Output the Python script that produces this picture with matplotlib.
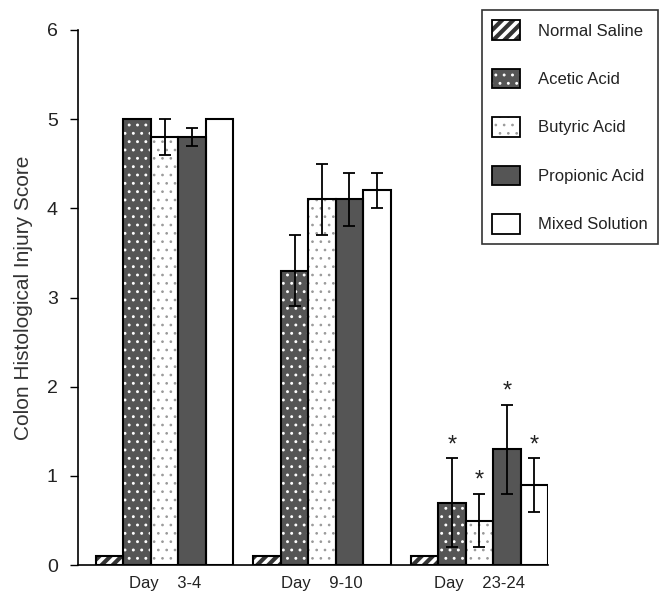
import matplotlib
matplotlib.use("Agg")
import matplotlib.pyplot as plt
import numpy as np
from matplotlib.patches import Rectangle
from matplotlib.legend_handler import HandlerBase

plt.rcParams['font.family'] = ['Liberation Sans', 'DejaVu Sans']

groups = ["Day    3-4", "Day    9-10", "Day    23-24"]
series = ["Normal Saline", "Acetic Acid", "Butyric Acid", "Propionic Acid", "Mixed Solution"]
values = {
    "Normal Saline": [0.1, 0.1, 0.1],
    "Acetic Acid": [5.0, 3.3, 0.7],
    "Butyric Acid": [4.8, 4.1, 0.5],
    "Propionic Acid": [4.8, 4.1, 1.3],
    "Mixed Solution": [5.0, 4.2, 0.9],
}
errors = {
    "Normal Saline": [0, 0, 0],
    "Acetic Acid": [0, 0.4, 0.5],
    "Butyric Acid": [0.2, 0.4, 0.3],
    "Propionic Acid": [0.1, 0.3, 0.5],
    "Mixed Solution": [0, 0.2, 0.3],
}
significant = {
    "Normal Saline": [False, False, False],
    "Acetic Acid": [False, False, True],
    "Butyric Acid": [False, False, True],
    "Propionic Acid": [False, False, True],
    "Mixed Solution": [False, False, True],
}

styles = {
    "Normal Saline": dict(face="white", hatch="///", hcolor="#333333", hlw=3.0),
    "Acetic Acid": dict(face="#555555", hatch="..", hcolor="white", hlw=0.9),
    "Butyric Acid": dict(face="white", hatch="..", hcolor="#999999", hlw=0.7),
    "Propionic Acid": dict(face="#555555", hatch=None, hcolor=None, hlw=1.0),
    "Mixed Solution": dict(face="white", hatch=None, hcolor=None, hlw=1.0),
}

fig = plt.figure(figsize=(6.61, 5.98), dpi=100)
ax = fig.add_axes([0.118, 0.055, 0.711, 0.895])

spacing = 5.73
centers = np.arange(len(groups)) * spacing
w = 1.0
for i, s in enumerate(series):
    x = centers + (i - 2) * w
    st = styles[s]
    plt.rcParams['hatch.linewidth'] = st["hlw"]
    ax.bar(x, values[s], width=w, color=st["face"], hatch=st["hatch"],
           edgecolor=st["hcolor"] if st["hcolor"] else st["face"], linewidth=0, zorder=2)
    ax.bar(x, values[s], width=w, fill=False, edgecolor="black", linewidth=1.5, zorder=3)
    for j in range(len(groups)):
        e = errors[s][j]
        if e > 0:
            ax.errorbar(x[j], values[s][j], yerr=e, fmt="none", ecolor="black",
                        elinewidth=1.3, capsize=4.5, capthick=1.3, zorder=4)
        if significant[s][j]:
            ax.text(x[j], values[s][j] + e + 0.02, "*", ha="center", va="bottom",
                    fontsize=17, zorder=5, color="#222222")

ax.set_xlim(centers[0] - 3.155, centers[-1] + 2.5)
ax.set_ylim(0, 6)
ax.set_yticks(range(0, 7))
ax.tick_params(axis='y', labelsize=14, length=6, width=1, direction='out', pad=8.5,
               labelcolor="#222222")
ax.set_xticks(centers)
ax.set_xticklabels(groups, fontsize=12, color="#222222")
ax.tick_params(axis='x', length=0, pad=8)
ax.spines['top'].set_visible(False)
ax.spines['right'].set_visible(False)
ax.spines['left'].set_linewidth(1.2)
ax.spines['bottom'].set_linewidth(1.2)
ax.set_ylabel("Colon Histological Injury Score", fontsize=15, color="#333333")
ax.yaxis.set_label_coords(-0.096, 0.5)


class Key:
    def __init__(self, name):
        self.name = name


class KeyHandler(HandlerBase):
    def create_artists(self, legend, orig_handle, xdescent, ydescent, width, height,
                       fontsize, trans):
        st = styles[orig_handle.name]
        plt.rcParams['hatch.linewidth'] = st["hlw"]
        r1 = Rectangle((-xdescent, -ydescent), width, height, facecolor=st["face"],
                       hatch=st["hatch"],
                       edgecolor=st["hcolor"] if st["hcolor"] else st["face"],
                       linewidth=0, transform=trans)
        r2 = Rectangle((-xdescent, -ydescent), width, height, fill=False,
                       edgecolor="black", linewidth=1.3, transform=trans)
        return [r1, r2]


handles = [Key(s) for s in series]
leg = fig.legend(handles, series, handler_map={Key: KeyHandler()},
                 loc="upper left", bbox_to_anchor=(0.729, 0.983), fontsize=12,
                 frameon=True, fancybox=False, edgecolor="black", labelspacing=1.72,
                 handlelength=1.68, handleheight=1.45, handletextpad=1.1,
                 borderpad=0.6, borderaxespad=0)
leg.get_frame().set_linewidth(1.2)
for t in leg.get_texts():
    t.set_color("#222222")

fig.savefig("out.png", dpi=100)
